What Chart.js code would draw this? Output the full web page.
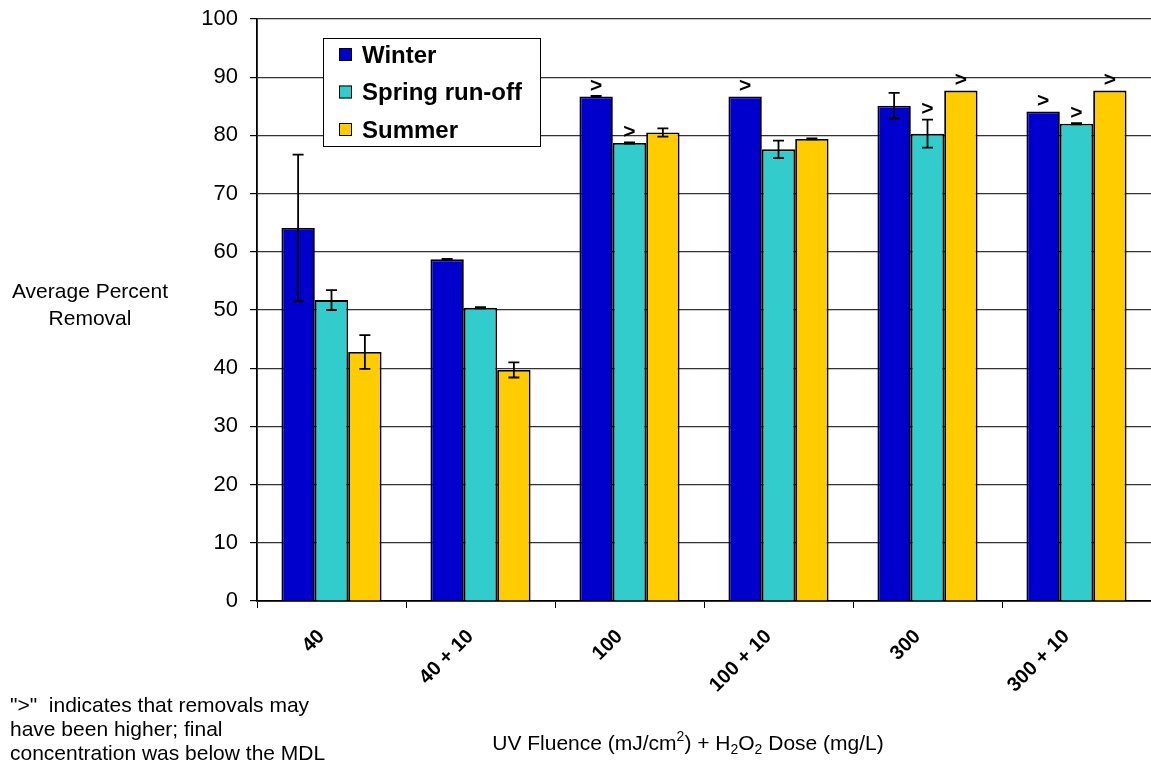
<!DOCTYPE html>
<html>
<head>
<meta charset="utf-8">
<script src="https://cdn.jsdelivr.net/npm/chart.js@4/dist/chart.umd.min.js"></script>
<style>
  html, body { margin: 0; padding: 0; background: #fff; }
  #wrap { width: 1151px; height: 765px; position: relative; }
</style>
</head>
<body>
<div id="wrap"><canvas id="c" width="1151" height="765"></canvas></div>
<script>
// Treatment conditions (UV fluence + H2O2 dose)
const categories = ['40', '40 + 10', '100', '100 + 10', '300', '300 + 10'];
const seriesNames = ['Winter', 'Spring run-off', 'Summer'];

// Average percent removal per season
const winter = [64.1, 58.7, 86.7, 86.7, 85.1, 84.1];
const spring = [51.7, 50.4, 78.7, 77.6, 80.3, 82.0];
const summer = [42.8, 39.7, 80.5, 79.4, 87.7, 87.7];

// Error bar half-widths (± percent)
const winterErr = [12.6, 0.1, 0.1, 0, 2.2, 0];
const springErr = [1.7, 0.1, 0.1, 1.5, 2.4, 0.1];
const summerErr = [2.9, 1.3, 0.7, 0.1, 0, 0];

// 1 = final concentration below MDL, removal may have been higher (">")
const winterGt = [0, 0, 1, 1, 0, 1];
const springGt = [0, 0, 1, 0, 1, 1];
const summerGt = [0, 0, 0, 0, 1, 1];

const yTicks = [0, 10, 20, 30, 40, 50, 60, 70, 80, 90, 100];

const colors = ['#0000CC', '#33CCCC', '#FFCC00'];
const FONT = '"Liberation Sans", Arial, Helvetica, sans-serif';

const errs = [winterErr, springErr, summerErr];
const flags = [winterGt, springGt, summerGt];

// Error bars with caps
const errorBarPlugin = {
  id: 'errorBars',
  afterDatasetsDraw(chart) {
    const ctx = chart.ctx;
    const y = chart.scales.y;
    ctx.save();
    ctx.strokeStyle = '#000';
    ctx.lineWidth = 1.8;
    chart.data.datasets.forEach((ds, di) => {
      const meta = chart.getDatasetMeta(di);
      meta.data.forEach((bar, i) => {
        const e = errs[di][i];
        if (!e) return;
        const v = ds.data[i];
        const yt = y.getPixelForValue(v + e);
        const yb = y.getPixelForValue(v - e);
        const x = bar.x;
        ctx.beginPath();
        ctx.moveTo(x, yt); ctx.lineTo(x, yb);
        ctx.moveTo(x - 5.5, yt); ctx.lineTo(x + 5.5, yt);
        ctx.moveTo(x - 5.5, yb); ctx.lineTo(x + 5.5, yb);
        ctx.stroke();
      });
    });
    ctx.restore();
  }
};

// ">" markers above bars whose removal is a lower bound
const gtPlugin = {
  id: 'gtMarks',
  afterDatasetsDraw(chart) {
    const ctx = chart.ctx;
    const y = chart.scales.y;
    ctx.save();
    ctx.fillStyle = '#000';
    ctx.font = 'bold 21px ' + FONT;
    ctx.textAlign = 'center';
    ctx.textBaseline = 'middle';
    chart.data.datasets.forEach((ds, di) => {
      const meta = chart.getDatasetMeta(di);
      meta.data.forEach((bar, i) => {
        if (!flags[di][i]) return;
        const v = ds.data[i] + (errs[di][i] || 0);
        ctx.fillText('>', bar.x, y.getPixelForValue(v) - 10);
      });
    });
    ctx.restore();
  }
};

// Boxed legend inside the plot, axis titles and footnote
const annotatePlugin = {
  id: 'annotate',
  afterDraw(chart) {
    const ctx = chart.ctx;
    ctx.save();

    // legend box
    const lx = 323, ly = 38, lw = 217, lh = 108;
    ctx.fillStyle = '#fff';
    ctx.fillRect(lx, ly, lw, lh);
    ctx.strokeStyle = '#000';
    ctx.lineWidth = 1;
    ctx.strokeRect(lx + 0.5, ly + 0.5, lw, lh);
    ctx.font = 'bold 24px ' + FONT;
    ctx.textAlign = 'left';
    ctx.textBaseline = 'middle';
    chart.data.datasets.forEach((ds, i) => {
      const cy = 55 + i * 37.5;
      ctx.fillStyle = ds.backgroundColor;
      ctx.fillRect(339, cy - 7, 13, 13);
      ctx.strokeStyle = '#000';
      ctx.lineWidth = 1;
      ctx.strokeRect(339.5, cy - 6.5, 12, 12);
      ctx.fillStyle = '#000';
      ctx.fillText(ds.label, 362, cy + 1);
    });

    // y axis title (horizontal, two lines)
    ctx.font = '21px ' + FONT;
    ctx.textAlign = 'center';
    ctx.fillStyle = '#000';
    ctx.fillText('Average Percent', 90, 292);
    ctx.fillText('Removal', 90, 319);

    // footnote
    ctx.textAlign = 'left';
    ctx.font = '21px ' + FONT;
    ctx.fillText('">"  indicates that removals may', 10, 706);
    ctx.fillText('have been higher; final', 10, 730);
    ctx.fillText('concentration was below the MDL', 10, 754);

    // x axis title with super/subscripts
    const parts = [
      { t: 'UV Fluence (mJ/cm', s: 0 },
      { t: '2', s: -1 },
      { t: ') + H', s: 0 },
      { t: '2', s: 1 },
      { t: 'O', s: 0 },
      { t: '2', s: 1 },
      { t: ' Dose (mg/L)', s: 0 }
    ];
    const big = '21px ' + FONT, small = '14px ' + FONT;
    let total = 0;
    parts.forEach(p => { ctx.font = p.s ? small : big; total += ctx.measureText(p.t).width; });
    let x = 688 - total / 2;
    const base = 750;
    ctx.textBaseline = 'alphabetic';
    parts.forEach(p => {
      ctx.font = p.s ? small : big;
      const dy = p.s === -1 ? -9 : (p.s === 1 ? 4 : 0);
      ctx.fillText(p.t, x, base + dy);
      x += ctx.measureText(p.t).width;
    });
    ctx.restore();
  }
};

const values = [winter, spring, summer];

new Chart(document.getElementById('c'), {
  type: 'bar',
  data: {
    labels: categories,
    datasets: seriesNames.map((name, i) => ({
      label: name,
      data: values[i],
      backgroundColor: colors[i],
      borderColor: '#000',
      borderWidth: 1.8,
      categoryPercentage: 0.672,
      barPercentage: 1.0
    }))
  },
  options: {
    responsive: false,
    animation: false,
    layout: { padding: { top: 19, right: 0, bottom: 0, left: 0 } },
    plugins: {
      legend: { display: false },
      tooltip: { enabled: false }
    },
    scales: {
      x: {
        grid: { drawOnChartArea: false, drawTicks: true, tickLength: 7, color: '#000', offset: true },
        border: { color: '#000', width: 1.8 },
        ticks: {
          color: '#000',
          font: { family: FONT, size: 20, weight: 'bold' },
          minRotation: 45, maxRotation: 45,
          padding: 17,
          labelOffset: -10
        },
        afterFit(scale) { scale.height = 164; scale.paddingLeft = 0; scale.paddingRight = 0; }
      },
      y: {
        min: 0, max: 100,
        afterBuildTicks(scale) { scale.ticks = yTicks.map(v => ({ value: v })); },
        grid: { color: '#333', lineWidth: 1.2, drawTicks: true, tickLength: 7, tickColor: '#000' },
        border: { color: '#000', width: 1.8 },
        ticks: {
          color: '#000',
          font: { family: FONT, size: 22 },
          padding: 12
        },
        afterFit(scale) { scale.width = 257; scale.paddingTop = 0; scale.paddingBottom = 0; }
      }
    }
  },
  plugins: [errorBarPlugin, gtPlugin, annotatePlugin]
});
</script>
</body>
</html>
